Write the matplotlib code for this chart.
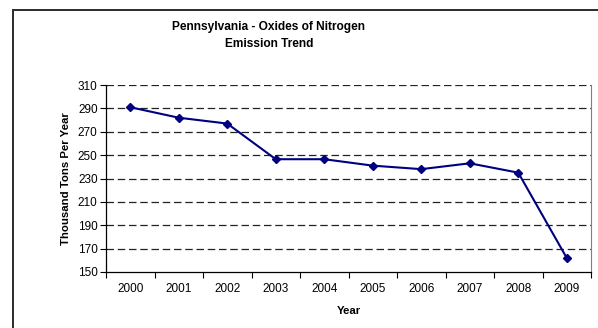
import matplotlib.pyplot as plt
from matplotlib.patches import Rectangle

years = ['2000', '2001', '2002', '2003', '2004', '2005', '2006', '2007', '2008', '2009']
emissions = [291, 282, 277, 246.5, 246.5, 241, 238, 243, 235, 162]
y_ticks = [150, 170, 190, 210, 230, 250, 270, 290, 310]

plt.rcParams['font.family'] = ['Liberation Sans', 'DejaVu Sans']

fig = plt.figure(figsize=(5.98, 3.28), dpi=100)
ax = fig.add_axes([106 / 598, 56 / 328, 485 / 598, 187 / 328])

# outer chart frame (runs off the right and bottom of the image)
fig.patches.append(Rectangle((12.5 / 598, -0.1), 1.0, 318 / 328 + 0.1,
                             transform=fig.transFigure, fill=False,
                             edgecolor='#2b2b2b', linewidth=1.4))

x = list(range(len(years)))
ax.plot(x, emissions, color='#000080', linewidth=1.5, marker='D', markersize=3.8,
        zorder=3, clip_on=False)

ax.set_xlim(-0.5, len(years) - 0.5)
ax.set_ylim(150, 310)
ax.set_yticks(y_ticks)
ax.set_xticks(x)
ax.set_xticklabels(years)
ax.set_xticks([i - 0.5 for i in range(len(years) + 1)], minor=True)
ax.tick_params(axis='x', which='major', length=0, pad=8, labelsize=8.5)
ax.tick_params(axis='x', which='minor', length=4, width=0.8, direction='out')
ax.tick_params(axis='y', length=4, width=0.8, direction='out', pad=2, labelsize=8.5)

for yv in y_ticks[1:]:
    ax.axhline(yv, color='#222222', linewidth=0.9, linestyle=(0, (6, 3)), zorder=1)

ax.spines['top'].set_visible(False)
ax.spines['right'].set_color('#808080')
ax.spines['left'].set_linewidth(0.9)
ax.spines['bottom'].set_linewidth(0.9)

ax.set_xlabel('Year', fontsize=8.2, fontweight='bold', labelpad=7.5)
ax.set_ylabel('Thousand Tons Per Year', fontsize=8.2, fontweight='bold', labelpad=5)

fig.text(269 / 598, 1 - 27 / 328, 'Pennsylvania - Oxides of Nitrogen', ha='center', va='center',
         fontsize=8.6, fontweight='bold')
fig.text(269 / 598, 1 - 44 / 328, 'Emission Trend', ha='center', va='center',
         fontsize=8.6, fontweight='bold')

fig.savefig('out.png', dpi=100)
